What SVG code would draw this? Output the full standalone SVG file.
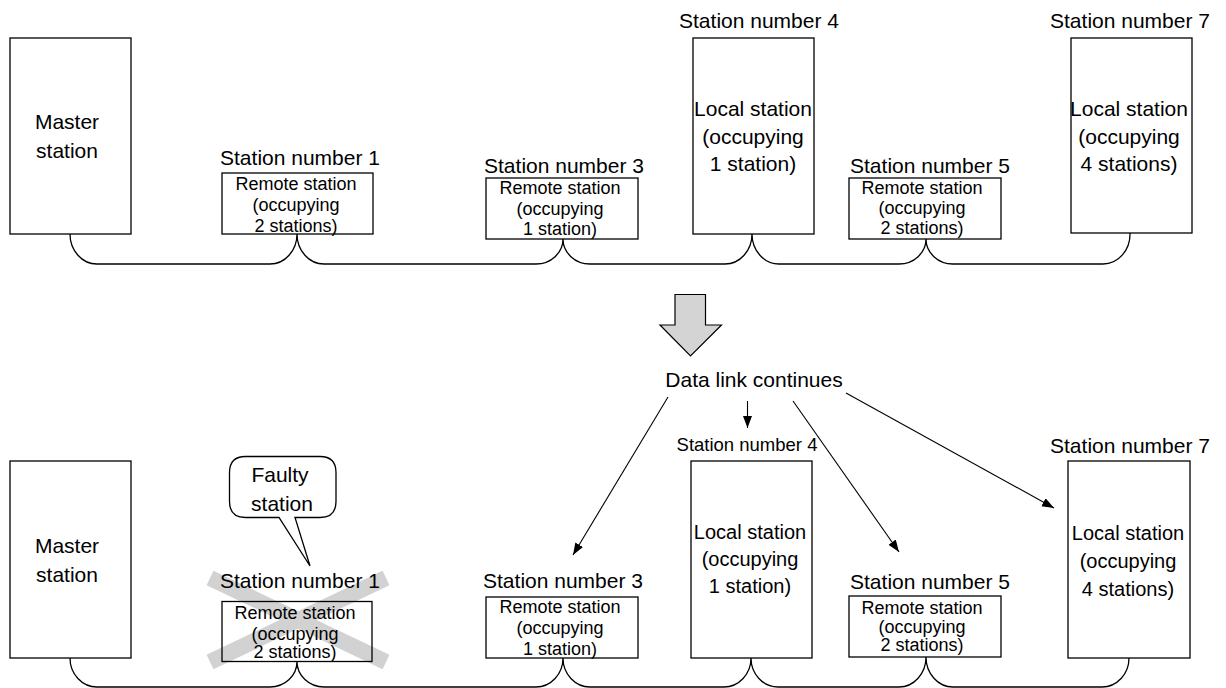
<svg xmlns="http://www.w3.org/2000/svg" width="1226" height="688" viewBox="0 0 1226 688">
<style>
text{font-family:"Liberation Sans",Arial,sans-serif;fill:#000;text-anchor:middle}
.lbl{font-size:21px}
.lbl4{font-size:18.5px}
.big{font-size:21px}
.big2{font-size:20px}
.sm{font-size:18px}
.box{fill:#fff;stroke:#000;stroke-width:1.3}
.cable{fill:none;stroke:#000;stroke-width:1.3}
.ln{fill:none;stroke:#000;stroke-width:1.1}
.xband{stroke:#d2d2d2;stroke-width:16;stroke-linecap:butt}
</style>
<defs>
<marker id="ah" markerUnits="userSpaceOnUse" markerWidth="12" markerHeight="10" refX="12" refY="4.5" orient="auto">
<path d="M0,0 L12,4.5 L0,9 Z" fill="#000"/>
</marker>
</defs>

<!-- TOP SECTION -->
<g id="top-master">
<rect class="box" x="10" y="38" width="121" height="196"/>
<text class="big" x="67" y="129">Master</text>
<text class="big" x="67" y="158">station</text>
</g>
<g id="top-st1">
<text class="lbl" x="300" y="165">Station number 1</text>
<rect class="box" x="222" y="173" width="151" height="61"/>
<text class="sm" x="296" y="189.5">Remote station</text>
<text class="sm" x="296" y="210.5">(occupying</text>
<text class="sm" x="296" y="231.5">2 stations)</text>
</g>
<g id="top-st3">
<text class="lbl" x="564" y="173">Station number 3</text>
<rect class="box" x="486" y="178" width="152" height="61"/>
<text class="sm" x="560" y="194">Remote station</text>
<text class="sm" x="560" y="214.5">(occupying</text>
<text class="sm" x="560" y="235">1 station)</text>
</g>
<g id="top-st4">
<text class="lbl" x="759" y="28">Station number 4</text>
<rect class="box" x="693" y="38" width="121" height="196"/>
<text class="big" x="753" y="116">Local station</text>
<text class="big" x="753" y="144">(occupying</text>
<text class="big" x="753" y="171">1 station)</text>
</g>
<g id="top-st5">
<text class="lbl" x="930" y="173">Station number 5</text>
<rect class="box" x="849" y="178" width="152" height="61"/>
<text class="sm" x="922" y="194">Remote station</text>
<text class="sm" x="922" y="214">(occupying</text>
<text class="sm" x="922" y="233.5">2 stations)</text>
</g>
<g id="top-st7">
<text class="lbl" x="1130" y="28">Station number 7</text>
<rect class="box" x="1071" y="38" width="121" height="195"/>
<text class="big" x="1129" y="116">Local station</text>
<text class="big" x="1129" y="144">(occupying</text>
<text class="big" x="1129" y="171">4 stations)</text>
</g>

<!-- transition arrow -->
<g id="transition-arrow">
<polygon points="675,294.5 705.5,294.5 705.5,325 721.5,325 690.5,356 660,325 675,325" fill="#d4d4d4" stroke="#000" stroke-width="1.2"/>
</g>

<g id="data-link-label">
<text class="big" x="754" y="387">Data link continues</text>
</g>

<!-- BOTTOM SECTION -->
<g id="bot-master">
<rect class="box" x="10" y="461" width="121" height="197"/>
<text class="big" x="67" y="553">Master</text>
<text class="big" x="67" y="582">station</text>
</g>
<g id="bot-st1">
<rect x="222" y="601.5" width="150" height="60" fill="#fff"/>
<line class="xband" x1="210" y1="578" x2="386" y2="662"/>
<line class="xband" x1="210" y1="662" x2="386" y2="578"/>
<text class="lbl" x="300" y="588">Station number 1</text>
<rect x="222" y="601.5" width="150" height="60" fill="none" stroke="#000" stroke-width="1.3"/>
<text class="sm" x="295" y="619">Remote station</text>
<text class="sm" x="295" y="639.5">(occupying</text>
<text class="sm" x="295" y="658">2 stations)</text>
</g>
<g id="callout-faulty">
<path d="M245.5,456.5 H320 Q336,456.5 336,472.5 V501.5 Q336,517.5 320,517.5 H295 L310,566 L279,517.5 H245.5 Q229.5,517.5 229.5,501.5 V472.5 Q229.5,456.5 245.5,456.5 Z" fill="#fff" stroke="#000" stroke-width="1.3"/>
<text class="big" x="280" y="481.5">Faulty</text>
<text class="big" x="282" y="510.5">station</text>
</g>
<g id="bot-st3">
<text class="lbl" x="563" y="588">Station number 3</text>
<rect class="box" x="486" y="597" width="152" height="61"/>
<text class="sm" x="560" y="613">Remote station</text>
<text class="sm" x="560" y="634">(occupying</text>
<text class="sm" x="560" y="655">1 station)</text>
</g>
<g id="bot-st4">
<text class="lbl4" x="747" y="451">Station number 4</text>
<rect class="box" x="691" y="461" width="121" height="197"/>
<text class="big2" x="750" y="539">Local station</text>
<text class="big2" x="750" y="566">(occupying</text>
<text class="big2" x="750" y="593">1 station)</text>
</g>
<g id="bot-st5">
<text class="lbl" x="930" y="589">Station number 5</text>
<rect class="box" x="849" y="596" width="152" height="61"/>
<text class="sm" x="922" y="614">Remote station</text>
<text class="sm" x="922" y="632.5">(occupying</text>
<text class="sm" x="922" y="651">2 stations)</text>
</g>
<g id="bot-st7">
<text class="lbl" x="1130" y="453">Station number 7</text>
<rect class="box" x="1068" y="461" width="122" height="197"/>
<text class="big2" x="1128" y="540">Local station</text>
<text class="big2" x="1128" y="568">(occupying</text>
<text class="big2" x="1128" y="596">4 stations)</text>
</g>

<!-- CONNECTORS -->
<g id="connectors">
<path class="cable" d="M70,234 A27 30 0 0 0 97,264 L270,264 A27 30 0 0 0 297,234 A27 30 0 0 0 324,264 L536,264 A27 25 0 0 0 563,239 A27 25 0 0 0 590,264 L725,264 A27 30 0 0 0 752,234 A27 30 0 0 0 779,264 L899,264 A27 25 0 0 0 926,239 A27 25 0 0 0 953,264 L1103,264 A27 30 0 0 0 1130,233"/>
<path class="cable" d="M70,658 A27 29 0 0 0 97,687 L270,687 A27 25.5 0 0 0 297,661.5 A27 25.5 0 0 0 324,687 L536,687 A27 29 0 0 0 563,658 A27 29 0 0 0 590,687 L724,687 A27 29 0 0 0 751,658 A27 29 0 0 0 778,687 L899,687 A27 30 0 0 0 926,657 A27 30 0 0 0 953,687 L1102,687 A27 29 0 0 0 1129,658"/>
<line class="ln" x1="668" y1="397" x2="573" y2="555" marker-end="url(#ah)"/>
<line class="ln" x1="747.5" y1="401" x2="747.5" y2="428" stroke-width="1.8" marker-end="url(#ah)"/>
<line class="ln" x1="793" y1="401" x2="899" y2="552" marker-end="url(#ah)"/>
<line class="ln" x1="846" y1="393" x2="1054" y2="508" stroke-width="2" marker-end="url(#ah)"/>
</g>
</svg>
